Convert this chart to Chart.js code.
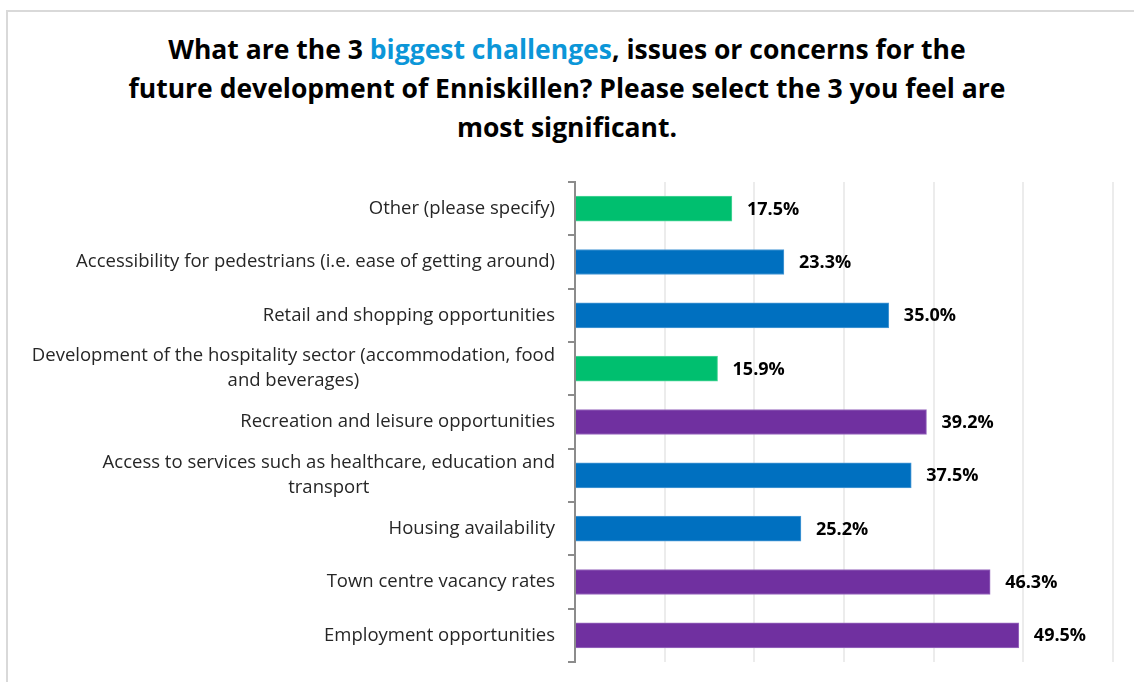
<!DOCTYPE html>
<html>
<head>
<meta charset="utf-8">
<script src="https://cdn.jsdelivr.net/npm/chart.js@4.4.1/dist/chart.umd.min.js"></script>
<style>
  html, body { margin: 0; padding: 0; background: #fff; }
  #wrap { position: relative; width: 1134px; height: 682px; overflow: hidden; }
  #frame { position: absolute; left: 6px; top: 10px; width: 1140px; height: 700px; border-left: 2px solid #d9d9d9; border-top: 2px solid #d9d9d9; }
  #titulo {
    position: absolute; left: 0; top: 30px; width: 1134px; text-align: center;
    font-family: "Open Sans", sans-serif; font-weight: bold; font-size: 26.5px;
    line-height: 39px; color: #000;
  }
  #titulo span { color: #0b96d8; }
  canvas { position: absolute; left: 0; top: 0; }
</style>
</head>
<body>
<div id="wrap">
  <div id="frame"></div>
  <div id="titulo">What are the 3 <span>biggest challenges</span>, issues or concerns for the<br>future development of Enniskillen? Please select the 3 you feel are<br>most significant.</div>
  <canvas id="grafico" width="1134" height="682"></canvas>
</div>
<script>
// categorias de arriba hacia abajo
const categorias = [
  ["Other (please specify)"],
  ["Accessibility for pedestrians (i.e. ease of getting around)"],
  ["Retail and shopping opportunities"],
  ["Development of the hospitality sector (accommodation, food", "and beverages)"],
  ["Recreation and leisure opportunities"],
  ["Access to services such as healthcare, education and", "transport"],
  ["Housing availability"],
  ["Town centre vacancy rates"],
  ["Employment opportunities"]
];
const valores = [17.5, 23.3, 35.0, 15.9, 39.2, 37.5, 25.2, 46.3, 49.5];
const colores = ["#00bf6f", "#0070c0", "#0070c0", "#00bf6f", "#7030a0", "#0070c0", "#0070c0", "#7030a0", "#7030a0"];
const bordes = ["#4fd69a", "#4d9bd6", "#4d9bd6", "#4fd69a", "#9a6cc0", "#4d9bd6", "#4d9bd6", "#9a6cc0", "#9a6cc0"];

const fuente = "'Open Sans', sans-serif";

// etiquetas del eje y: lineas centradas entre si, bloque alineado a la derecha
const etiquetasY = {
  id: "etiquetasY",
  afterDraw(chart) {
    const ctx = chart.ctx;
    const y = chart.scales.y;
    ctx.save();
    ctx.font = "18.5px " + fuente;
    ctx.fillStyle = "#262626";
    ctx.textAlign = "center";
    ctx.textBaseline = "middle";
    const derecha = y.right - 20;
    const alto = 25;
    categorias.forEach((lineas, i) => {
      const py = y.getPixelForValue(i);
      const maxW = Math.max(...lineas.map(l => ctx.measureText(l).width));
      const cx = derecha - maxW / 2;
      const y0 = py - (lineas.length - 1) * alto / 2;
      lineas.forEach((l, k) => ctx.fillText(l, cx, y0 + k * alto));
    });
    ctx.restore();
  }
};

// valores al final de cada barra
const etiquetasValor = {
  id: "etiquetasValor",
  afterDatasetsDraw(chart) {
    const ctx = chart.ctx;
    const meta = chart.getDatasetMeta(0);
    ctx.save();
    ctx.font = "bold 18px " + fuente;
    ctx.fillStyle = "#000";
    ctx.textAlign = "left";
    ctx.textBaseline = "middle";
    meta.data.forEach((bar, i) => {
      ctx.fillText(valores[i].toFixed(1) + "%", bar.x + 15, bar.y + 1);
    });
    ctx.restore();
  }
};

new Chart(document.getElementById("grafico"), {
  type: "bar",
  data: {
    labels: categorias.map(c => c.join(" ")),
    datasets: [{
      data: valores,
      backgroundColor: colores,
      borderColor: bordes,
      borderWidth: 1,
      barThickness: 25
    }]
  },
  options: {
    indexAxis: "y",
    responsive: false,
    animation: false,
    layout: { padding: { top: 182, right: 21, bottom: 20, left: 0 } },
    plugins: { legend: { display: false }, tooltip: { enabled: false } },
    scales: {
      x: {
        min: 0, max: 60,
        ticks: { display: false, stepSize: 10 },
        grid: { color: "#ececec", lineWidth: 2, drawTicks: false },
        border: { display: false }
      },
      y: {
        ticks: { display: false },
        grid: { offset: true, drawOnChartArea: false, tickLength: 7, color: "#8c8c8c", lineWidth: 2 },
        border: { display: true, color: "#8c8c8c", width: 2 },
        afterFit(scale) { scale.width = 575; }
      }
    }
  },
  plugins: [etiquetasY, etiquetasValor]
});
</script>
</body>
</html>
